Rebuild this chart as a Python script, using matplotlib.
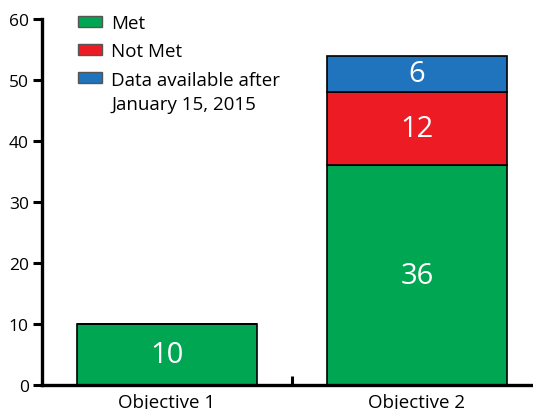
import matplotlib.pyplot as plt
from matplotlib.patches import Patch
import numpy as np

categories = ['Objective 1', 'Objective 2']
met = [10, 36]
not_met = [0, 12]
pending = [0, 6]
series_names = ['Met', 'Not Met', 'Data available after\nJanuary 15, 2015']
colors = ['#00A651', '#ED1C24', '#1F74BD']

plt.rcParams['font.family'] = ['Open Sans', 'DejaVu Sans']

fig = plt.figure(figsize=(5.33, 4.10), dpi=100)
ax = fig.add_axes([42 / 533, 24 / 410, 491 / 533, 366 / 410])

x = np.arange(len(categories))
width = 0.72
bottom = np.zeros(len(categories))
for vals, col in zip([met, not_met, pending], colors):
    vals = np.array(vals)
    bars = ax.bar(x, vals, width, bottom=bottom, color=col, edgecolor='black', linewidth=1.2)
    for rect, v, b in zip(bars, vals, bottom):
        if v > 0:
            ax.text(rect.get_x() + rect.get_width() / 2, b + v / 2, str(v),
                    ha='center', va='center', color='white', fontsize=21)
    bottom += vals

ax.set_xlim(-0.5, 1.464)
ax.set_ylim(0, 60)
ax.set_yticks(range(0, 61, 10))
ax.set_xticks(x)
ax.set_xticklabels(categories)
ax.set_xticks([0.5], minor=True)
ax.tick_params(axis='x', which='major', length=0, labelsize=13.5, pad=6)
ax.tick_params(axis='x', which='minor', direction='in', length=6.5, width=2.2)
ax.tick_params(axis='y', length=6.5, width=2.2, labelsize=12.5, pad=3)

for s in ['top', 'right']:
    ax.spines[s].set_visible(False)
for s in ['left', 'bottom']:
    ax.spines[s].set_linewidth(2.4)

handles = [Patch(facecolor=c, edgecolor='#555555', linewidth=1) for c in colors]
leg = ax.legend(handles, series_names, loc='upper left',
                bbox_to_anchor=(78 / 533, 1 - 15 / 410),
                bbox_transform=fig.transFigure, frameon=False, fontsize=13.5,
                handlelength=1.28, handleheight=0.5, handletextpad=0.5,
                labelspacing=0.55, borderpad=0, borderaxespad=0)
# line spacing of the two-line entry, and its box up beside the first line
leg.get_texts()[2].set_linespacing(1.45)
h = leg.legend_handles[2]
h.set_y(h.get_y() + 10.5)

fig.savefig('out.png', dpi=100)
